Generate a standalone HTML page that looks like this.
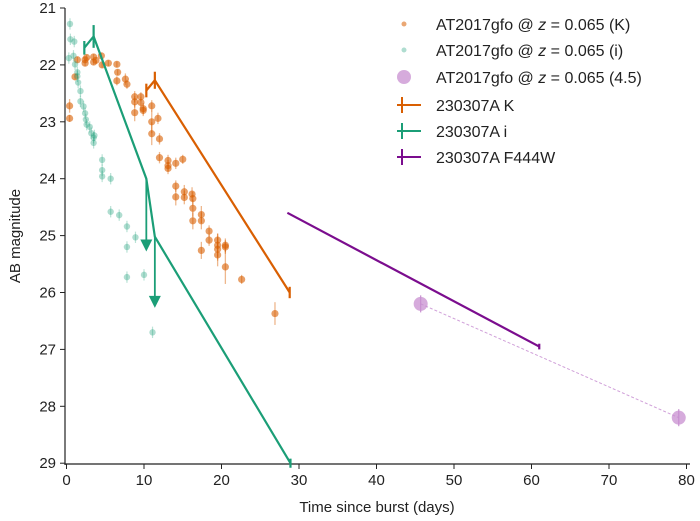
<!DOCTYPE html>
<html><head><meta charset="utf-8"><style>
html,body{margin:0;padding:0;background:#fff;}
svg{display:block;font-family:"Liberation Sans",Arial,sans-serif;}
</style></head><body>
<svg id="chart" width="700" height="521"></svg>
<script>
const kDays=[0.4,0.4,1.1,1.4,2.4,2.4,2.6,3.5,3.5,3.8,4.5,4.6,5.4,6.5,6.6,6.5,7.6,7.8,8.8,8.8,8.8,9.6,9.6,9.9,9.9,11,11.8,11,11,12,12,13.1,13.1,13.1,14.1,14.1,14.1,15,15.2,15.2,16.2,16.3,16.3,16.3,17.4,17.4,17.4,18.4,18.4,19.5,19.5,19.5,19.5,20.5,20.5,20.5,22.6,26.9];
const kMags=[22.72,22.94,22.21,21.91,21.91,21.97,21.87,21.86,21.95,21.92,21.84,22.0,21.97,21.99,22.13,22.28,22.25,22.34,22.56,22.65,22.84,22.56,22.66,22.77,22.8,22.72,22.94,23.0,23.21,23.3,23.63,23.68,23.77,23.82,23.73,24.13,24.32,23.66,24.23,24.33,24.27,24.35,24.52,24.74,24.63,24.74,25.26,24.92,25.08,25.08,25.17,25.24,25.34,25.17,25.2,25.55,25.77,26.37];
const kErr=[0.12,0.06,0.05,0.05,0.05,0.05,0.05,0.05,0.05,0.05,0.05,0.05,0.05,0.05,0.05,0.08,0.1,0.08,0.1,0.1,0.15,0.08,0.1,0.1,0.1,0.1,0.1,0.2,0.2,0.1,0.1,0.1,0.1,0.1,0.1,0.1,0.15,0.08,0.12,0.12,0.12,0.12,0.15,0.15,0.15,0.15,0.15,0.1,0.1,0.12,0.2,0.2,0.2,0.12,0.12,0.3,0.08,0.2];
const iDays=[0.45,0.5,1.0,0.3,0.9,1.1,1.4,1.4,1.5,1.8,1.8,2.2,2.4,2.5,2.6,3.0,3.2,3.5,3.5,3.6,4.6,4.6,4.6,5.7,5.7,6.8,7.8,8.9,7.8,7.8,10,11.1];
const iMags=[21.28,21.55,21.59,21.88,21.84,21.99,22.13,22.2,22.31,22.46,22.64,22.73,22.85,22.96,23.05,23.09,23.2,23.28,23.37,23.24,23.67,23.85,23.96,24.0,24.58,24.64,24.84,25.03,25.2,25.73,25.69,26.7];
const pDays=[45.7,79];
const pMags=[26.2,28.2];
const grbKDays=[10.3,11.4,28.8];
const grbKMags=[22.45,22.27,26.0];
const grbIDays=[2.3,3.5,10.3,11.4,28.9];
const grbIMags=[21.7,21.5,24.0,25.02,29.0];
const grbPDays=[28.5,61];
const grbPMags=[24.6,26.95];
const xTicks=[0,10,20,30,40,50,60,70,80];
const yTicks=[21,22,23,24,25,26,27,28,29];

const svg=document.getElementById('chart');
const NS='http://www.w3.org/2000/svg';
const X=d=>66.5+d*7.75;
const Y=m=>8+(m-21)*56.9;
function mk(tag,attrs,parent){const e=document.createElementNS(NS,tag);for(const k in attrs)e.setAttribute(k,attrs[k]);(parent||svg).appendChild(e);return e;}
const OR='#d95f02',GR='#1b9e77',PU='#7b0d8e';

// axes
const ax=mk('g',{});


mk('line',{x1:65,y1:8,x2:65,y2:465,stroke:'#222','stroke-width':1.2},ax);
mk('line',{x1:65,y1:464,x2:690,y2:464,stroke:'#222','stroke-width':1.2},ax);
xTicks.forEach(t=>{
 mk('line',{x1:X(t),y1:464,x2:X(t),y2:469,stroke:'#222'},ax);
 const tx=mk('text',{x:X(t),y:485,'text-anchor':'middle','font-size':15,fill:'#222'},ax);tx.textContent=t;
 
 
});
yTicks.forEach(t=>{
 mk('line',{x1:60,y1:Y(t),x2:65,y2:Y(t),stroke:'#222'},ax);
 const tx=mk('text',{x:56,y:Y(t)+5,'text-anchor':'end','font-size':15,fill:'#222'},ax);tx.textContent=t;
 
 
});
const xt=mk('text',{x:377,y:512,'text-anchor':'middle','font-size':15,fill:'#222'});xt.textContent='Time since burst (days)';


const yt=mk('text',{x:0,y:0,'text-anchor':'middle','font-size':15,fill:'#222',transform:'translate(20,236) rotate(-90)'});yt.textContent='AB magnitude';



// AT2017gfo K
const gk=mk('g',{});


kDays.forEach((d,i)=>{
 mk('line',{x1:X(d),x2:X(d),y1:Y(kMags[i]-kErr[i]),y2:Y(kMags[i]+kErr[i]),stroke:OR,'stroke-opacity':0.45,'stroke-width':1.3},gk);
 const c=mk('circle',{cx:X(d),cy:Y(kMags[i]),r:3.6,fill:OR,'fill-opacity':0.6},gk);
 
 
});
// AT2017gfo i
const gi=mk('g',{});


iDays.forEach((d,i)=>{
 mk('line',{x1:X(d),x2:X(d),y1:Y(iMags[i]-0.1),y2:Y(iMags[i]+0.1),stroke:GR,'stroke-opacity':0.3,'stroke-width':1.2},gi);
 const c=mk('circle',{cx:X(d),cy:Y(iMags[i]),r:3.2,fill:GR,'fill-opacity':0.35},gi);
 
 
});
// purple 4.5
const gp=mk('g',{});


mk('line',{x1:X(pDays[0]),y1:Y(pMags[0]),x2:X(pDays[1]),y2:Y(pMags[1]),stroke:'#b060c0','stroke-opacity':0.6,'stroke-dasharray':'3,2','stroke-width':1},gp);
pDays.forEach((d,i)=>{
 mk('line',{x1:X(d),x2:X(d),y1:Y(pMags[i]-0.15),y2:Y(pMags[i]+0.15),stroke:'#c890d0','stroke-width':1.2},gp);
 const c=mk('circle',{cx:X(d),cy:Y(pMags[i]),r:7,fill:'#c88fd0','fill-opacity':0.75},gp);
 
 
});

function poly(days,mags,col,name){
 const p=mk('polyline',{points:days.map((d,i)=>X(d)+','+Y(mags[i])).join(' '),fill:'none',stroke:col,'stroke-width':2.2});
 
 
}
function ebar(d,m,e,col){mk('line',{x1:X(d),x2:X(d),y1:Y(m-e),y2:Y(m+e),stroke:col,'stroke-width':2.2});}
function arrow(d,m1,m2,col){
 mk('line',{x1:X(d),x2:X(d),y1:Y(m1),y2:Y(m2)-4,stroke:col,'stroke-width':1.8});
 mk('path',{d:`M${X(d)-6},${Y(m2)-12} L${X(d)+6},${Y(m2)-12} L${X(d)},${Y(m2)} Z`,fill:col});
}
poly(grbKDays,grbKMags,OR,'grb-k-line');
ebar(grbKDays[0],grbKMags[0],0.12,OR);ebar(grbKDays[1],grbKMags[1],0.15,OR);ebar(grbKDays[2],grbKMags[2],0.1,OR);
poly(grbIDays,grbIMags,GR,'grb-i-line');
ebar(grbIDays[0],grbIMags[0],0.12,GR);ebar(grbIDays[1],grbIMags[1],0.2,GR);ebar(grbIDays[4],grbIMags[4],0.08,GR);
arrow(grbIDays[2],grbIMags[2],25.28,GR);
arrow(grbIDays[3],grbIMags[3],26.27,GR);
poly(grbPDays,grbPMags,PU,'grb-f444w-line');
ebar(grbPDays[1],grbPMags[1],0.05,PU);

// legend
const lg=mk('g',{});


const labels=['AT2017gfo @ <tspan font-style="italic">z</tspan> = 0.065 (K)','AT2017gfo @ <tspan font-style="italic">z</tspan> = 0.065 (i)','AT2017gfo @ <tspan font-style="italic">z</tspan> = 0.065 (4.5)','230307A K','230307A i','230307A F444W'];
const ly=[24,50,77,105,131,157];
mk('circle',{cx:404,cy:ly[0],r:2.5,fill:OR,'fill-opacity':0.55},lg);
mk('circle',{cx:404,cy:ly[1],r:2.5,fill:GR,'fill-opacity':0.35},lg);
mk('circle',{cx:404,cy:ly[2],r:7,fill:'#c88fd0','fill-opacity':0.75},lg);
[OR,GR,PU].forEach((c,i)=>{const y=ly[3+i];mk('line',{x1:397,x2:421,y1:y,y2:y,stroke:c,'stroke-width':2},lg);mk('line',{x1:402,x2:402,y1:y-8,y2:y+8,stroke:c,'stroke-width':2},lg);});
labels.forEach((l,i)=>{const t=mk('text',{x:436,y:ly[i]+6,'font-size':16,fill:'#222'},lg);t.innerHTML=l;
 
 });
</script>
</body></html>
